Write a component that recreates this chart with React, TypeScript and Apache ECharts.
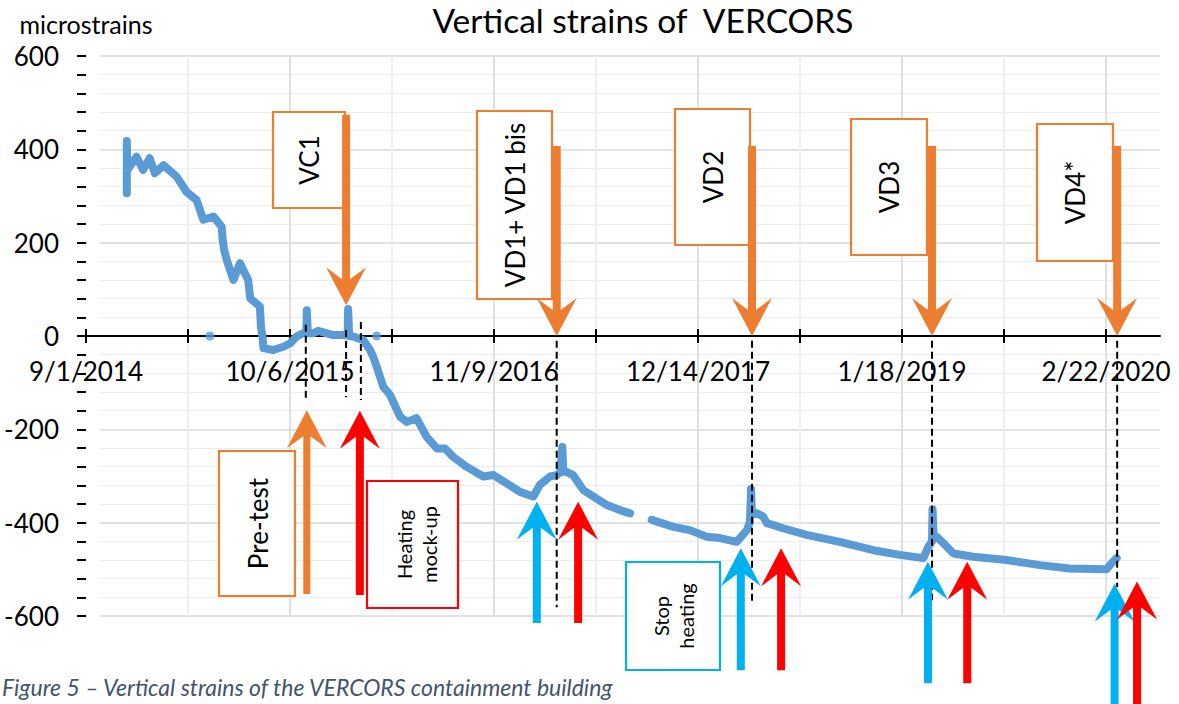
import React, { useEffect, useRef } from 'react';
import * as echarts from 'echarts';

const FONT = 'Lato, "Open Sans", "DejaVu Sans", sans-serif';
const DAY_MS = 86400000;
const START_UTC = Date.UTC(2014, 8, 1); // day 0 = 9/1/2014

// measured vertical strain: [days since 9/1/2014, microstrains] (null = gap in record)
const strainReadings: [number, number | null][] = [
  [80, 306], [80, 418], [81, 356], [99, 384], [112, 356], [125, 381], [135, 349], [152, 366],
  [178, 341], [197, 309], [217, 291], [230, 249], [250, 256], [266, 234], [268, 206], [271, 184],
  [276, 163], [289, 120], [302, 156], [318, 120], [322, 81], [341, 63], [343, 20], [346, -1],
  [348, -26], [367, -30], [387, -23], [400, -16], [413, -1], [426, 6], [432, 6], [433, 55],
  [435, 6], [446, 6], [455, 11], [485, 2], [504, 2], [513, 2], [514, 58], [516, 0], [524, -1],
  [544, -9], [557, -30], [563, -44], [570, -66], [583, -109], [596, -126], [616, -173],
  [629, -184], [648, -176], [668, -216], [688, -241], [704, -241], [720, -259], [746, -280],
  [779, -301], [799, -298], [825, -316], [851, -334], [877, -344], [890, -319], [910, -301],
  [923, -298], [930, -292], [934, -238], [936, -291], [942, -291], [955, -298], [975, -330],
  [995, -344], [1021, -362], [1047, -373], [1067, -380],
  [1088, null],
  [1109, -394], [1152, -409], [1184, -416], [1217, -430], [1243, -433], [1276, -441],
  [1296, -416], [1302, -398], [1304, -328], [1306, -382], [1316, -380], [1328, -387],
  [1335, -401], [1367, -412], [1413, -426], [1478, -441], [1544, -459], [1596, -469],
  [1642, -476], [1652, -451], [1659, -440], [1660, -371], [1662, -425], [1668, -430],
  [1681, -444], [1701, -466], [1740, -473], [1805, -480], [1871, -491], [1929, -498],
  [2001, -500], [2011, -487], [2021, -476],
];
const strayDays = [243, 570];
const strayValues = [0, 0];

// axes
const xMaxDay = 2106;
const xTickDays = [0, 200, 400, 600, 800, 1000, 1200, 1400, 1600, 1800, 2000];
const xLabelDays = [0, 400, 800, 1200, 1600, 2000];
const yMin = -600;
const yMax = 600;
const yStep = 200;

// pressure tests (orange arrows pointing down to the axis)
const testNames = ['VC1', 'VD1+ VD1 bis', 'VD2', 'VD3', 'VD4*'];
const testDays = [510, 923, 1306, 1659, 2022];
const testArrowTops = [474, 407, 407, 407, 407];
const testArrowTips = [66, 0, 0, 0, 0];

// pre-test (orange up arrow)
const pretestDay = 433;
const pretestTip = -159;
const pretestTail = -553;

// heating start (red up arrows) / heating stop (blue up arrows)
const heatStartDays = [537, 965, 1363, 1728, 2061];
const heatStartTips = [-160, -355, -455, -484, -526];
const heatStartTails = [-555, -615, -716, -744, -800];
const heatStopDays = [884, 1284, 1651, 2017];
const heatStopTips = [-355, -455, -484, -531];
const heatStopTails = [-615, -716, -744, -800];

// dashed event markers
const markerDays = [431, 510, 539, 923, 1306, 1659, 2022];
const markerTops = [24, 13, 30, -10, -10, -10, -10];
const markerBottoms = [-133, -131, -137, -581, -570, -566, -538];

const ORANGE = '#ED7D31';
const RED = '#FF0000';
const CYAN = '#00B0F0';
const BLUE = '#5B9BD5';

// layout
const GRID = { left: 86, right: 19, top: 56, bottom: 88 };
const ZERO_OFFSET = -(704 - GRID.top - GRID.bottom) / 2; // x-axis drawn at y = 0

// annotation boxes (page layout)
const boxLayout = [
  { text: testNames[0], x: 273, y: 112, w: 72, h: 96, color: ORANGE, size: 26, dx: 0 },
  { text: testNames[1], x: 477, y: 111, w: 75, h: 188, color: ORANGE, size: 26, dx: 0 },
  { text: testNames[2], x: 675, y: 109, w: 75, h: 136, color: ORANGE, size: 26, dx: 0 },
  { text: testNames[3], x: 851, y: 119, w: 76, h: 136, color: ORANGE, size: 26, dx: 0 },
  { text: testNames[4], x: 1037, y: 124, w: 76, h: 137, color: ORANGE, size: 26, dx: 0 },
  { text: 'Pre-test', x: 219, y: 451, w: 76, h: 145, color: ORANGE, size: 26, dx: 1 },
  { text: 'Heating\nmock-up', x: 367, y: 481, w: 91, h: 127, color: RED, size: 20, dx: 4 },
  { text: 'Stop\nheating', x: 626, y: 562, w: 94, h: 108, color: CYAN, size: 20, dx: 0 },
];

function fmtDay(d: number): string {
  const dt = new Date(START_UTC + d * DAY_MS);
  return `${dt.getUTCMonth() + 1}/${dt.getUTCDate()}/${dt.getUTCFullYear()}`;
}

function arrowPoints(x: number, tipY: number, tailY: number, shaft: number) {
  const s = tailY > tipY ? 1 : -1;
  const L = 38;
  const hw = 20;
  const notch = 12;
  return [
    [x, tipY],
    [x + hw, tipY + s * L],
    [x + shaft / 2, tipY + s * (L - notch)],
    [x + shaft / 2, tailY],
    [x - shaft / 2, tailY],
    [x - shaft / 2, tipY + s * (L - notch)],
    [x - hw, tipY + s * L],
  ];
}

export default function App() {
  const ref = useRef<HTMLDivElement>(null);

  useEffect(() => {
    const chart = echarts.init(ref.current as HTMLDivElement, null, { renderer: 'svg' });
    const tickLine = { color: '#000', width: 2 };

    chart.setOption({
      animation: false,
      backgroundColor: '#fff',
      title: {
        text: 'Vertical strains of  VERCORS',
        left: 643,
        top: 3,
        textAlign: 'center',
        padding: 0,
        textStyle: { fontSize: 33.5, fontWeight: 'normal', color: '#000', fontFamily: FONT },
      },
      grid: { ...GRID, containLabel: false },
      xAxis: [
        {
          type: 'value',
          z: 2,
          min: 0,
          max: xMaxDay,
          interval: 200,
          position: 'bottom',
          offset: ZERO_OFFSET,
          axisLine: { show: true, onZero: false, lineStyle: { color: '#000', width: 2 } },
          axisTick: { show: true, length: 7, customValues: xTickDays, lineStyle: tickLine },
          axisLabel: {
            customValues: xLabelDays,
            formatter: (v: number) => fmtDay(v),
            fontSize: 26,
            color: '#000',
            margin: 22,
            fontFamily: FONT,
          },
          splitLine: {
            show: true,
            showMinLine: false,
            lineStyle: { color: ['#EDEDED', '#D9D9D9'], width: 1.6 },
          },
        },
        {
          type: 'value',
          z: 2,
          min: 0,
          max: xMaxDay,
          interval: 200,
          position: 'bottom',
          offset: ZERO_OFFSET,
          axisLine: { show: false, onZero: false },
          axisTick: { show: true, inside: true, length: 7, customValues: xTickDays, lineStyle: tickLine },
          axisLabel: { show: false },
          splitLine: { show: false },
        },
      ],
      yAxis: {
        type: 'value',
        min: yMin,
        max: yMax,
        interval: yStep,
        name: 'microstrains',
        nameLocation: 'end',
        nameGap: 32,
        nameTextStyle: { fontSize: 25, color: '#000', fontFamily: FONT, align: 'center', verticalAlign: 'middle' },
        axisLine: { show: false, onZero: false },
        axisTick: { show: true, length: 9, lineStyle: tickLine },
        minorTick: { show: true, splitNumber: 5, length: 9, lineStyle: tickLine },
        axisLabel: { fontSize: 26, color: '#000', margin: 27, fontFamily: FONT },
        splitLine: { show: true, lineStyle: { color: '#D9D9D9', width: 1.6 } },
        minorSplitLine: { show: true, lineStyle: { color: '#EDEDED', width: 1.2 } },
      },
      series: [
        {
          type: 'line',
          xAxisIndex: 0,
          yAxisIndex: 0,
          data: strainReadings.map(([d, v]) => [d, v === null ? '-' : v]),
          showSymbol: false,
          symbol: 'none',
          connectNulls: false,
          lineStyle: { color: BLUE, width: 8, cap: 'round', join: 'round' },
          z: 3,
        },
        {
          type: 'scatter',
          xAxisIndex: 0,
          yAxisIndex: 0,
          data: strayDays.map((d, i) => [d, strayValues[i]]),
          symbolSize: 9,
          itemStyle: { color: BLUE },
          z: 3,
        },
      ],
    });

    const toPx = (d: number, v: number) =>
      chart.convertToPixel({ seriesIndex: 0 }, [d, v]) as unknown as number[];

    const g: any[] = [];

    // gap between y-axis ticks and plot area
    g.push({ type: 'rect', silent: true, z: 1, shape: { x: 87, y: 48, width: 13, height: 576 }, style: { fill: '#fff' } });

    // dashed event markers
    markerDays.forEach((d, i) => {
      const [x, y1] = toPx(d, markerTops[i]);
      const [, y2] = toPx(d, markerBottoms[i]);
      g.push({
        type: 'line',
        silent: true,
        z: 50,
        shape: { x1: x, y1, x2: x, y2 },
        style: { stroke: '#000', lineWidth: 2, lineDash: [7, 4] },
      });
    });

    // boxes
    boxLayout.forEach((b) => {
      g.push({
        type: 'rect',
        silent: true,
        z: 55,
        shape: { x: b.x, y: b.y, width: b.w, height: b.h },
        style: { fill: '#fff', stroke: b.color, lineWidth: 2.2 },
      });
      g.push({
        type: 'text',
        silent: true,
        z: 56,
        x: b.x + b.w / 2 + b.dx,
        y: b.y + b.h / 2,
        rotation: Math.PI / 2,
        style: {
          text: b.text,
          fill: '#000',
          fontSize: b.size,
          fontFamily: FONT,
          align: 'center',
          verticalAlign: 'middle',
          lineHeight: b.size * 1.25,
        },
      });
    });

    const arrow = (d: number, tip: number, tail: number, color: string, shaft: number) => {
      const [x, tipY] = toPx(d, tip);
      const [, tailY] = toPx(d, tail);
      g.push({
        type: 'polygon',
        silent: true,
        z: 60,
        shape: { points: arrowPoints(x, tipY, tailY, shaft) },
        style: { fill: color },
      });
    };

    testDays.forEach((d, i) => arrow(d, testArrowTips[i], testArrowTops[i], ORANGE, 8));
    arrow(pretestDay, pretestTip, pretestTail, ORANGE, 7);
    heatStopDays.forEach((d, i) => arrow(d, heatStopTips[i], heatStopTails[i], CYAN, 8));
    heatStartDays.forEach((d, i) => arrow(d, heatStartTips[i], heatStartTails[i], RED, 8));

    // caption
    g.push({
      type: 'text',
      silent: true,
      z: 60,
      x: 2,
      y: 687,
      style: {
        text: 'Figure 5 \u2013 Vertical strains of the VERCORS containment building',
        fill: '#44546A',
        fontSize: 23,
        fontStyle: 'italic',
        fontFamily: FONT,
        verticalAlign: 'middle',
      },
    });

    chart.setOption({ graphic: g });

    return () => chart.dispose();
  }, []);

  return (
    <div
      ref={ref}
      style={{ position: 'absolute', left: 0, top: 0, width: 1179, height: 704, background: '#fff' }}
    />
  );
}
